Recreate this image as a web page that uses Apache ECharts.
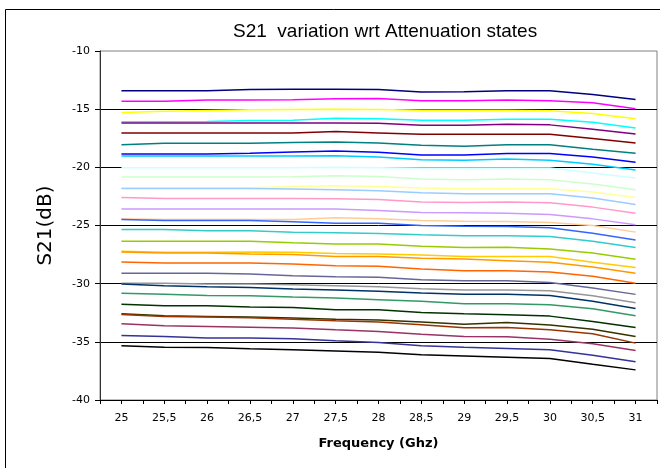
<!DOCTYPE html>
<html>
<head>
<meta charset="utf-8">
<script src="https://cdn.jsdelivr.net/npm/echarts@6/dist/echarts.min.js"></script>
<style>
html,body{margin:0;padding:0;background:#fff;}
#chart{width:660px;height:468px;}
</style>
</head>
<body>
<div id="chart"></div>
<script>
// Frequencies (GHz) and their tick labels
const freqs = [25, 25.5, 26, 26.5, 27, 27.5, 28, 28.5, 29, 29.5, 30, 30.5, 31];
const freqLabels = ['25', '25,5', '26', '26,5', '27', '27,5', '28', '28,5', '29', '29,5', '30', '30,5', '31'];
const yTicks = [-40, -35, -30, -25, -20, -15, -10];

// S21 (dB) per attenuation state
const state01 = [-13.42,-13.42,-13.42,-13.30,-13.28,-13.28,-13.30,-13.53,-13.51,-13.42,-13.42,-13.74,-14.17];
const state02 = [-14.31,-14.31,-14.22,-14.22,-14.20,-14.11,-14.08,-14.28,-14.28,-14.22,-14.28,-14.45,-14.97];
const state03 = [-15.29,-15.17,-15.11,-15.06,-15.03,-15.00,-15.03,-15.09,-15.09,-15.09,-15.14,-15.37,-15.83];
const state04 = [-16.09,-16.09,-16.06,-15.98,-15.95,-15.78,-15.83,-15.95,-15.95,-15.86,-15.86,-16.12,-16.61];
const state05 = [-16.18,-16.18,-16.18,-16.18,-16.18,-16.18,-16.20,-16.38,-16.38,-16.29,-16.35,-16.72,-17.13];
const state06 = [-17.04,-17.04,-17.04,-17.04,-17.04,-16.93,-17.04,-17.16,-17.16,-17.16,-17.16,-17.53,-17.90];
const state07 = [-18.05,-17.93,-17.93,-17.93,-17.87,-17.82,-17.90,-18.10,-18.19,-18.05,-18.05,-18.45,-18.79];
const state08 = [-18.85,-18.85,-18.85,-18.79,-18.68,-18.59,-18.71,-18.94,-18.94,-18.82,-18.82,-19.11,-19.57];
const state09 = [-19.02,-19.02,-19.02,-19.02,-19.02,-19.00,-19.11,-19.34,-19.40,-19.28,-19.40,-19.74,-20.23];
const state10 = [-20.03,-20.03,-20.03,-20.03,-20.03,-20.00,-20.03,-20.06,-20.06,-20.06,-20.06,-20.49,-20.92];
const state11 = [-20.83,-20.83,-20.83,-20.83,-20.80,-20.72,-20.78,-21.00,-21.06,-21.00,-21.06,-21.44,-21.93];
const state12 = [-21.75,-21.75,-21.75,-21.75,-21.64,-21.58,-21.64,-21.78,-21.84,-21.84,-21.84,-22.13,-22.59];
const state13 = [-21.81,-21.81,-21.81,-21.81,-21.87,-21.93,-22.01,-22.18,-22.27,-22.27,-22.27,-22.64,-23.19];
const state14 = [-22.59,-22.67,-22.67,-22.67,-22.67,-22.70,-22.76,-22.99,-23.02,-22.99,-23.05,-23.42,-23.94];
const state15 = [-23.59,-23.59,-23.59,-23.59,-23.59,-23.59,-23.71,-23.88,-23.91,-23.94,-24.05,-24.43,-24.94];
const state16 = [-24.43,-24.48,-24.48,-24.48,-24.48,-24.34,-24.43,-24.57,-24.63,-24.66,-24.74,-25.00,-25.57];
const state17 = [-24.48,-24.57,-24.57,-24.57,-24.68,-24.80,-24.80,-25.00,-25.06,-25.09,-25.20,-25.66,-26.24];
const state18 = [-25.34,-25.34,-25.46,-25.46,-25.57,-25.63,-25.69,-25.80,-25.89,-25.89,-25.95,-26.35,-26.90];
const state19 = [-26.35,-26.35,-26.35,-26.35,-26.49,-26.58,-26.58,-26.78,-26.90,-26.87,-27.01,-27.36,-27.90];
const state20 = [-27.21,-27.30,-27.30,-27.27,-27.30,-27.41,-27.44,-27.53,-27.67,-27.67,-27.67,-28.16,-28.62];
const state21 = [-27.27,-27.36,-27.36,-27.44,-27.50,-27.67,-27.67,-27.82,-27.87,-28.02,-28.16,-28.56,-29.11];
const state22 = [-28.13,-28.22,-28.22,-28.22,-28.30,-28.45,-28.51,-28.74,-28.88,-28.88,-28.99,-29.37,-29.97];
const state23 = [-29.11,-29.11,-29.11,-29.17,-29.31,-29.40,-29.45,-29.66,-29.74,-29.74,-29.89,-30.37,-30.92];
const state24 = [-29.97,-29.97,-30.03,-30.03,-30.09,-30.17,-30.26,-30.43,-30.55,-30.55,-30.60,-31.03,-31.64];
const state25 = [-30.03,-30.17,-30.26,-30.32,-30.46,-30.55,-30.66,-30.80,-30.92,-30.92,-31.01,-31.52,-32.13];
const state26 = [-30.83,-30.92,-31.01,-31.03,-31.15,-31.24,-31.38,-31.52,-31.72,-31.72,-31.81,-32.16,-32.76];
const state27 = [-31.78,-31.90,-31.90,-32.01,-32.04,-32.24,-32.24,-32.47,-32.59,-32.67,-32.79,-33.25,-33.76];
const state28 = [-32.59,-32.76,-32.82,-32.87,-32.96,-33.05,-33.13,-33.30,-33.48,-33.33,-33.56,-33.91,-34.54];
const state29 = [-32.64,-32.82,-32.87,-32.93,-33.05,-33.19,-33.30,-33.53,-33.79,-33.76,-33.97,-34.31,-35.11];
const state30 = [-33.45,-33.62,-33.68,-33.74,-33.82,-33.97,-34.11,-34.34,-34.54,-34.57,-34.77,-35.17,-35.75];
const state31 = [-34.45,-34.54,-34.66,-34.68,-34.74,-34.91,-35.06,-35.34,-35.46,-35.57,-35.69,-36.15,-36.72];
const state32 = [-35.34,-35.46,-35.49,-35.60,-35.69,-35.78,-35.89,-36.12,-36.21,-36.32,-36.44,-36.93,-37.41];

const states = [state01,state02,state03,state04,state05,state06,state07,state08,
  state09,state10,state11,state12,state13,state14,state15,state16,
  state17,state18,state19,state20,state21,state22,state23,state24,
  state25,state26,state27,state28,state29,state30,state31,state32];

const colors = ['#000080','#FF00FF','#FFFF00','#00FFFF','#800080','#800000','#008080','#0000FF',
  '#00CCFF','#CCFFFF','#CCFFCC','#FFFF99','#99CCFF','#FF99CC','#CC99FF','#FFCC99',
  '#3366FF','#33CCCC','#99CC00','#FFCC00','#FF9900','#FF6600','#666699','#969696',
  '#003366','#339966','#003300','#333300','#993300','#993366','#333399','#000000'];

const chart = echarts.init(document.getElementById('chart'), null, {renderer: 'canvas'});

const series = states.map((vals, i) => ({
  name: 'State ' + (i + 1),
  type: 'line',
  data: vals.map((v, j) => [freqs[j], v]),
  showSymbol: false,
  symbol: 'none',
  lineStyle: {color: colors[i], width: 1.5},
  itemStyle: {color: colors[i]},
  silent: true,
  z: 2
}));

function freqLabel(value) {
  for (let k = 0; k < freqs.length; k++) {
    if (Math.abs(freqs[k] - value) < 1e-6) return freqLabels[k];
  }
  return '';
}

chart.setOption({
  animation: false,
  backgroundColor: '#ffffff',
  title: {
    text: 'S21  variation wrt Attenuation states',
    left: 233,
    top: 22,
    padding: 0,
    textStyle: {fontFamily: 'Liberation Sans', fontSize: 19, fontWeight: 'normal', color: '#000'}
  },
  graphic: [{
    type: 'rect',
    shape: {x: 5.5, y: 9.5, width: 700, height: 500},
    style: {fill: 'none', stroke: '#000', lineWidth: 1},
    silent: true,
    z: 0
  }],
  grid: {
    left: 100, top: 51, width: 557, height: 349,
    show: true, borderColor: '#808080', borderWidth: 1, backgroundColor: 'transparent'
  },
  xAxis: {
    type: 'value',
    min: 24.75, max: 31.25, interval: 0.25,
    name: 'Frequency (Ghz)',
    nameLocation: 'middle',
    nameGap: 37,
    nameTextStyle: {fontFamily: 'DejaVu Sans', fontSize: 13, fontWeight: 'bold', color: '#000'},
    axisLine: {show: true, onZero: false, lineStyle: {color: '#000', width: 1}},
    axisTick: {show: true, inside: false, length: 4, lineStyle: {color: '#000'}},
    axisLabel: {
      margin: 13,
      fontFamily: 'DejaVu Sans', fontSize: 11, color: '#000',
      formatter: freqLabel
    },
    splitLine: {show: false}
  },
  yAxis: {
    type: 'value',
    min: -40, max: -10, interval: 5,
    name: 'S21(dB)',
    nameLocation: 'middle',
    nameRotate: 90,
    nameGap: 44,
    nameTextStyle: {fontFamily: 'DejaVu Sans', fontSize: 20, color: '#000'},
    axisLine: {show: true, lineStyle: {color: '#333', width: 1}},
    axisTick: {show: true, inside: false, length: 5, lineStyle: {color: '#000'}},
    axisLabel: {
      margin: 10,
      fontFamily: 'DejaVu Sans', fontSize: 11, color: '#000',
      formatter: function (v) { return yTicks.indexOf(v) >= 0 ? String(v) : ''; }
    },
    splitLine: {show: true, showMinLine: false, showMaxLine: false, lineStyle: {color: '#000', width: 1}}
  },
  series: series
});
</script>
</body>
</html>
